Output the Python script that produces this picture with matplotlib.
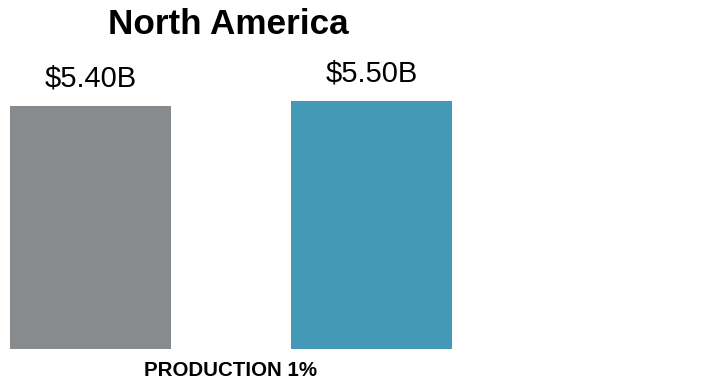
import matplotlib
matplotlib.use("Agg")
import matplotlib.pyplot as plt
import numpy as np

plt.rcParams['font.family'] = ['Liberation Sans', 'DejaVu Sans']

title = "North America"
groups = ["PRODUCTION 1%"]
series_names = ["Previous", "Current"]
previous_values = [5.40]
current_values = [5.50]
value_labels = [["$5.40B"], ["$5.50B"]]
colors = ["#878B8E", "#4499B6"]

W, H, DPI = 702, 385, 100
fig = plt.figure(figsize=(W / DPI, H / DPI), dpi=DPI)

# axes placed in pixel units
left, right, bottom, top = 10, 452, 36, 385 - 78.5
ax = fig.add_axes([left / W, bottom / H, (right - left) / W, (top - bottom) / H])

x = np.arange(len(groups))
width = 0.573
offsets = [-0.5, 0.5]
for vals, labels, off, col in zip([previous_values, current_values], value_labels, offsets, colors):
    bars = ax.bar(x + off, vals, width=width, color=col)
    for b, lab in zip(bars, labels):
        ax.annotate(lab, (b.get_x() + b.get_width() / 2, b.get_height()),
                    xytext=(0, 9.5), textcoords="offset points",
                    ha="center", va="bottom", fontsize=21)

ax.set_xlim(-0.5 - width / 2, 0.5 + width / 2)
ax.set_ylim(0, 6.0)
ax.set_xticks(x)
ax.set_xticklabels(groups, fontsize=14.8, fontweight="bold")
ax.tick_params(axis="x", length=0, pad=9)
ax.set_yticks([])
for s in ax.spines.values():
    s.set_visible(False)

fig.text(228.5 / W, 1 - 24 / H, title, ha="center", va="center",
         fontsize=25.3, fontweight="bold")

fig.savefig("out.png", dpi=DPI)
